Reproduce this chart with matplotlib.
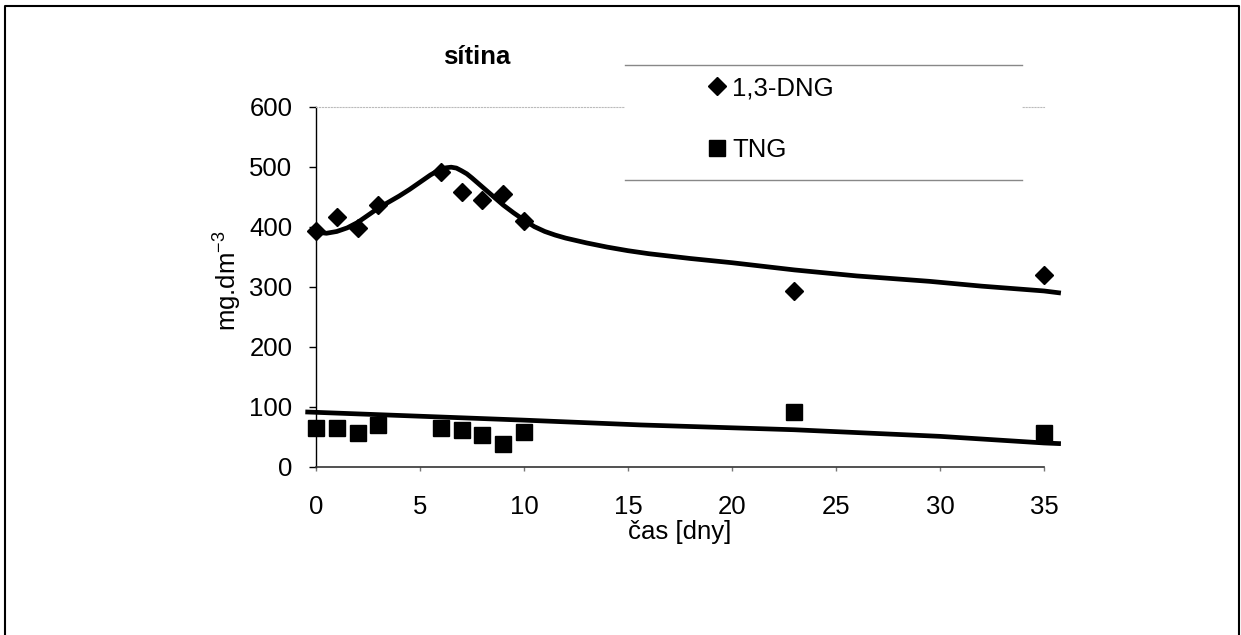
import numpy as np
import matplotlib
matplotlib.use('Agg')
import matplotlib.pyplot as plt
from matplotlib.lines import Line2D
from matplotlib.patches import Rectangle

plt.rcParams['font.family'] = ['Liberation Sans', 'DejaVu Sans']
plt.rcParams['mathtext.fontset'] = 'custom'
plt.rcParams['mathtext.rm'] = 'Liberation Sans'

### Measured points
days = [0, 1, 2, 3, 6, 7, 8, 9, 10, 23, 35]
dng = [392, 416, 397, 436, 491, 458, 444, 454, 410, 293, 319]
tng = [65, 65, 57, 70, 65, 62, 53, 39, 59, 91, 56]

### Fitted curves
dng_fit_x = [0, 0.5, 1, 1.5, 2, 2.5, 3, 3.5, 4, 4.5, 5, 5.5, 5.75, 6, 6.25, 6.5, 6.75, 7, 7.25, 7.5,
             8, 8.5, 9, 9.5, 10, 10.5, 11, 11.5, 12, 13, 14, 15, 16, 17, 18, 20, 23, 26, 29.5, 32, 35, 35.7]
dng_fit_y = [391, 389, 392, 398, 407, 419, 431, 441, 451, 462, 474, 486, 491, 495, 498, 499, 497.5, 493, 488, 481,
             466, 451, 436, 423, 411, 400, 392, 386, 381, 373, 366, 360, 355, 351, 347, 340, 328, 318, 309, 301, 293, 290]
tng_fit_x = [-0.4, 0, 10, 15.6, 23, 30, 35, 35.7]
tng_fit_y = [91.5, 91, 78, 70, 62, 51, 40, 39]

x_ticks = [0, 5, 10, 15, 20, 25, 30, 35]
y_ticks = [0, 100, 200, 300, 400, 500, 600]

fs = 18.5
W, H = 1241, 635

fig = plt.figure(figsize=(W / 100, H / 100), dpi=100)
ax = fig.add_axes([316 / W, 1 - 467 / H, 728 / W, 360.5 / H])

ax.plot(dng_fit_x, dng_fit_y, color='black', lw=3.4, clip_on=False, zorder=2, solid_joinstyle='round')
ax.plot(tng_fit_x, tng_fit_y, color='black', lw=3.4, clip_on=False, zorder=2, solid_joinstyle='round')
ax.plot(days, dng, 'D', color='black', ms=9, clip_on=False, zorder=3, label='1,3-DNG')
ax.plot(days, tng, 's', color='black', ms=11.5, clip_on=False, zorder=3, label='TNG')

ax.set_xlim(0, 35)
ax.set_ylim(0, 600)
ax.set_xticks(x_ticks)
ax.set_yticks(y_ticks)
ax.tick_params(axis='y', direction='out', length=5, width=1, pad=12, labelsize=fs)
ax.tick_params(axis='x', direction='out', length=3, width=1, color='#777777', pad=17, labelsize=fs)

ax.spines['right'].set_visible(False)
ax.spines['top'].set_color('#bbbbbb')
ax.spines['top'].set_linestyle(':')
ax.spines['left'].set_linewidth(1)
ax.spines['bottom'].set_color('#333333')
ax.spines['bottom'].set_linewidth(1.2)

ax.set_xlabel('čas [dny]', fontsize=fs)
ax.xaxis.set_label_coords(0.5, -0.148)
ax.xaxis.label.set_va('top')
ax.set_ylabel('mg.dm$^{\\mathregular{-3}}$', fontsize=fs)
ax.yaxis.set_label_coords(-0.1, 0.516)

fig.text(477 / W, 1 - 57 / H, 'sítina', fontsize=fs, fontweight='bold', ha='center', va='center')

### Legend box
fig.patches.append(Rectangle((625 / W, 1 - 180 / H), 397 / W, 115 / H, transform=fig.transFigure,
                             facecolor='white', edgecolor='none', zorder=1))
for yy in [65, 180]:
    fig.lines.append(Line2D([625 / W, 1022 / W], [1 - yy / H, 1 - yy / H], transform=fig.transFigure,
                            color='#888888', lw=1))
handles, labels = ax.get_legend_handles_labels()
fig.legend(handles, labels, loc='center left', bbox_to_anchor=(709 / W, 1 - 119 / H),
           bbox_transform=fig.transFigure, frameon=False, fontsize=fs, numpoints=1,
           handlelength=0.6, handletextpad=0.3, labelspacing=1.45, borderpad=0, borderaxespad=0)

### Outer frame
fig.lines.append(Line2D([5 / W, 5 / W, 1239 / W, 1239 / W], [-0.1, 1 - 6 / H, 1 - 6 / H, -0.1],
                        transform=fig.transFigure, color='black', lw=1.5))

fig.savefig('out.png', dpi=100)
